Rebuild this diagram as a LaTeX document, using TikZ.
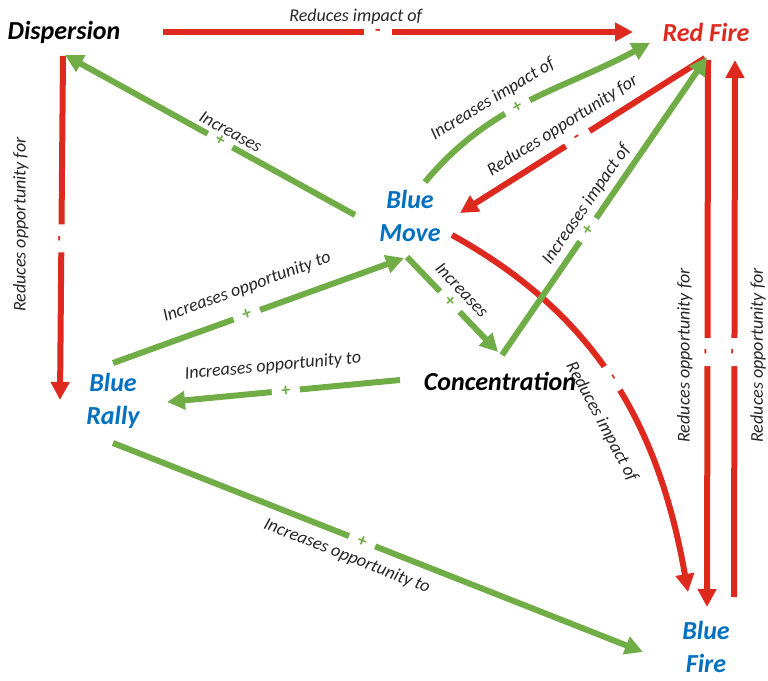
\documentclass[tikz,border=0pt]{standalone}
\usepackage{fontspec}
\setmainfont{Carlito}
\usepackage{tikz}
\usetikzlibrary{arrows.meta}
\definecolor{loopred}{RGB}{222,41,31}
\definecolor{loopgreen}{RGB}{112,173,71}
\definecolor{loopblue}{RGB}{0,112,192}
\tikzset{
  concept/.style={inner sep=0pt, align=center,
    font=\fontsize{26}{33}\selectfont\bfseries\itshape},
  blueconcept/.style={concept, text=loopblue},
  redarr/.style={draw=loopred, line width=6pt,
    -{Triangle[length=18pt, width=18pt]}},
  greenarr/.style={draw=loopgreen, line width=6pt,
    -{Triangle[length=18pt, width=18pt]}},
  lbl/.style={font=\fontsize{18}{20}\selectfont\itshape,
    text=black!85, inner sep=0pt},
  possign/.style={sloped, fill=white, text=loopgreen,
    minimum width=28pt, minimum height=14pt, inner sep=0pt,
    font=\fontsize{18}{18}\selectfont\bfseries},
  negsign/.style={possign, text=loopred},
}

\begin{document}
\begin{tikzpicture}[x=1pt, y=1pt]
  \useasboundingbox (0,0) rectangle (768,680);

  % Concepts
  \node[concept] (disp) at (64,648) {Dispersion};
  \node[concept, text=loopred] (redfire) at (706,648) {Red Fire};
  \node[blueconcept] (move) at (410,464) {Blue\\Move};
  \node[blueconcept] (rally) at (113,279) {Blue\\Rally};
  \node[concept] (conc) at (500,299) {Concentration};
  \node[blueconcept] (bluefire) at (706,33) {Blue\\Fire};

  % Red links (reducing)
  \draw[redarr] ([shift={(99,0)}]disp.center)
    -- node[negsign, pos=0.457] {-}
       node[lbl, pos=0.41, above=5pt] {Reduces impact of}
    ([shift={(-73,0)}]redfire.center);

  \draw[redarr] ([shift={(-1,-24)}]disp.center)
    -- node[negsign, pos=0.53] {-}
       node[lbl, pos=0.49, left=30pt, rotate=90, anchor=south]
         {Reduces opportunity for}
    ([shift={(-53,1)}]rally.center);

  \draw[redarr] ([shift={(-1,-26)}]redfire.center)
    -- node[negsign, pos=0.52] {-}
       node[lbl, sloped, pos=0.54, above=8pt] {Reduces opportunity for}
    ([shift={(50,3)}]move.center);

  \draw[redarr] ([shift={(42,-19)}]move.center)
    to[out=-29, in=100]
       node[negsign, pos=0.49] {-}
       node[lbl, sloped, pos=0.57, below=20pt] {Reduces impact of}
    ([shift={(-18,55)}]bluefire.center);

  \draw[redarr] ([shift={(2,-28)}]redfire.center)
    -- node[negsign, pos=0.534] {-}
       node[lbl, pos=0.54, left=12pt, rotate=90, anchor=south]
         {Reduces opportunity for}
    ([shift={(1,40)}]bluefire.center);

  \draw[redarr] ([shift={(28,50)}]bluefire.center)
    -- node[negsign, pos=0.456] {-}
       node[lbl, pos=0.45, right=13pt, rotate=90, anchor=north]
         {Reduces opportunity for}
    ([shift={(29,-28)}]redfire.center);

  % Green links (increasing)
  \draw[greenarr] ([shift={(-55,1)}]move.center)
    -- node[possign, pos=0.465] {+}
       node[lbl, sloped, pos=0.45, above=4pt] {Increases}
    ([shift={(1,-23)}]disp.center);

  \draw[greenarr] ([shift={(15,34)}]move.center)
    to[out=50, in=208]
       node[possign, pos=0.45] {+}
       node[lbl, sloped, pos=0.38, above=8pt] {Increases impact of}
    ([shift={(-56,-11)}]redfire.center);

  \draw[greenarr] ([shift={(2,26)}]conc.center)
    -- node[possign, pos=0.42] {+}
       node[lbl, sloped, pos=0.475, above=5pt] {Increases impact of}
    ([shift={(1,-25)}]redfire.center);

  \draw[greenarr] ([shift={(-3,-41)}]move.center)
    -- node[possign, pos=0.47] {+}
       node[lbl, sloped, pos=0.47, above=8pt] {Increases}
    ([shift={(-2,29)}]conc.center);

  \draw[greenarr] ([shift={(0,38)}]rally.center)
    -- node[possign, pos=0.46] {+}
       node[lbl, sloped, pos=0.49, above=15pt] {Increases opportunity to}
    ([shift={(-6,-42)}]move.center);

  \draw[greenarr] ([shift={(-100,1)}]conc.center)
    -- node[possign, pos=0.49] {+}
       node[lbl, sloped, pos=0.535, above=15pt] {Increases opportunity to}
    ([shift={(54,-1)}]rally.center);

  \draw[greenarr] ([shift={(0,-42)}]rally.center)
    -- node[possign, pos=0.47] {+}
       node[lbl, sloped, pos=0.455, below=9pt] {Increases opportunity to}
    ([shift={(-63,-5)}]bluefire.center);
\end{tikzpicture}
\end{document}
